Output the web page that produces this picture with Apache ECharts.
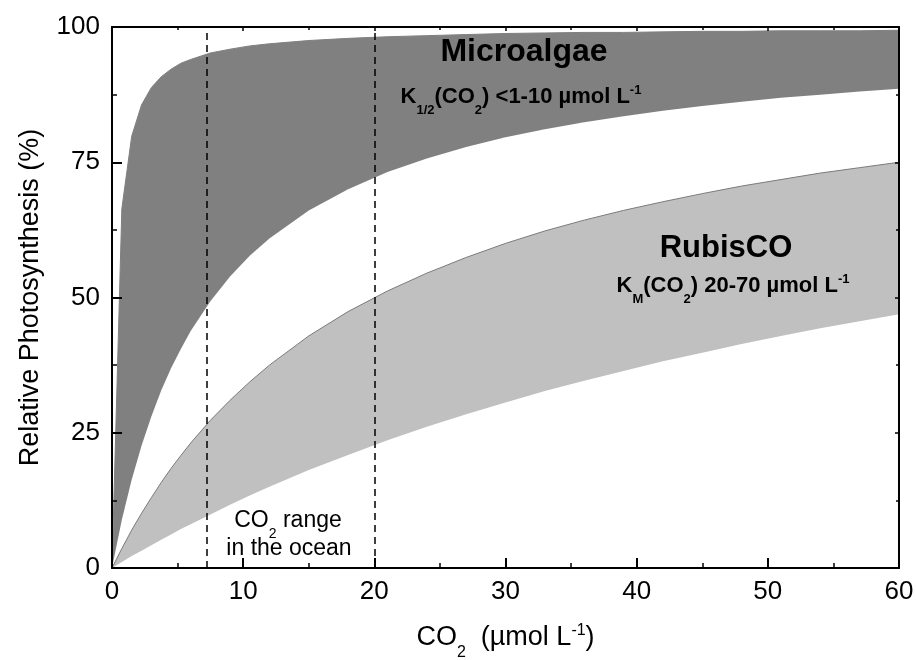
<!DOCTYPE html>
<html><head><meta charset="utf-8">
<script src="https://cdn.jsdelivr.net/npm/echarts@6/dist/echarts.min.js"></script>
<style>html,body{margin:0;padding:0;background:#fff}#c{width:916px;height:660px}</style>
</head><body><div id="c"></div>
<script>
// CO2 concentration (µmol L-1)
const co2 = [0,0.75,1.5,2.25,3,3.75,4.5,5.25,6,7.5,9,10.5,12,15,18,21,24,27,30,33,36,39,42,45,48,51,54,57,60];
// Relative photosynthesis (%)
const microUpper = [0,66.4,79.8,85.6,88.8,90.8,92.2,93.3,94.0,95.2,95.9,96.5,96.9,97.5,97.9,98.2,98.4,98.6,98.8,98.9,99.0,99.0,99.1,99.2,99.2,99.3,99.3,99.3,99.4];
const microLower = [0,8.9,16.3,22.6,28.0,32.8,36.9,40.5,43.8,49.3,53.9,57.7,60.9,66.1,70.0,73.2,75.7,77.8,79.6,81.1,82.4,83.5,84.5,85.4,86.2,86.9,87.5,88.1,88.6];
const rubiscoUpper = [0,3.6,7.0,10.1,13.0,15.8,18.4,20.8,23.1,27.3,31.0,34.4,37.5,42.9,47.4,51.2,54.5,57.4,60.0,62.3,64.3,66.1,67.7,69.2,70.6,71.8,73.0,74.0,75.0];
const rubiscoLower = [0,1.1,2.2,3.2,4.2,5.2,6.2,7.2,8.1,9.9,11.7,13.4,15.0,18.1,20.9,23.6,26.1,28.4,30.6,32.7,34.6,36.4,38.2,39.8,41.4,42.9,44.3,45.6,46.9];
// ocean CO2 range bounds
const oceanRange = [7.2, 20];
const xTicks = [0,10,20,30,40,50,60];
const yTicks = [0,25,50,75,100];

const pair = arr => co2.map((x,i)=>[x,arr[i]]);
const FONT = 'Liberation Sans, Arial, sans-serif';
const chart = echarts.init(document.getElementById('c'), null, {renderer:'canvas'});

function band(data, fill, lineColor, lineWidth, z){
  return {type:'line', data: pair(data), symbol:'none', smooth:false, z:z,
    lineStyle:{color:lineColor, width:lineWidth, opacity: lineWidth?1:0},
    areaStyle:{color:fill, opacity:1}, silent:true, animation:false};
}
const subRich = (fs, bold) => ({
  a:{font:(bold?'bold ':'')+fs+'px '+FONT, fill:'#000', lineHeight:fs+4},
  s:{font:(bold?'bold ':'')+Math.round(fs*0.6)+'px '+FONT, fill:'#000', verticalAlign:'bottom', lineHeight:Math.round(fs*0.6)+1, padding:[0,0,-Math.round(fs*0.3),0]},
  p:{font:(bold?'bold ':'')+Math.round(fs*0.6)+'px '+FONT, fill:'#000', verticalAlign:'top', lineHeight:Math.round(fs*0.6)+1}
});

const option = {
  animation:false,
  grid:{left:112, right:17, top:27, bottom:92, containLabel:false, outerBoundsMode:'none'},
  xAxis:[{
    type:'value', min:xTicks[0], max:xTicks[xTicks.length-1], interval:10, z:10,
    axisLine:{show:true, onZero:false, lineStyle:{color:'#000', width:2}},
    axisTick:{show:true, inside:true, length:10, lineStyle:{color:'#000', width:2}},
    minorTick:{show:true, splitNumber:2, length:5, lineStyle:{color:'#000', width:1.5}},
    splitLine:{show:false},
    axisLabel:{color:'#000', fontFamily:FONT, fontSize:26, margin:11},
    name:'{a|CO}{s|2}{a|  (µmol L}{p|-1}{a|)}', nameLocation:'middle', nameGap:55,
    nameTextStyle:{rich:{
      a:{fontFamily:FONT, fontSize:27, color:'#000', lineHeight:30},
      s:{fontFamily:FONT, fontSize:16, color:'#000', verticalAlign:'bottom', lineHeight:17, padding:[0,0,-8,0]},
      p:{fontFamily:FONT, fontSize:16, color:'#000', verticalAlign:'top', lineHeight:17}
    }}
  },{
    type:'value', position:'top', min:0, max:60, interval:10, z:10,
    axisLine:{show:true, onZero:false, lineStyle:{color:'#000', width:2}},
    axisTick:{show:true, inside:true, length:4, lineStyle:{color:'#000', width:1.5}},
    minorTick:{show:true, splitNumber:2, length:3, lineStyle:{color:'#000', width:1.5}},
    splitLine:{show:false}, axisLabel:{show:false}
  }],
  yAxis:[{
    type:'value', min:yTicks[0], max:yTicks[yTicks.length-1], interval:25, z:10,
    axisLine:{show:true, onZero:false, lineStyle:{color:'#000', width:2}},
    axisTick:{show:true, inside:true, length:10, lineStyle:{color:'#000', width:2}},
    minorTick:{show:true, splitNumber:2, length:5, lineStyle:{color:'#000', width:1.5}},
    splitLine:{show:false},
    axisLabel:{color:'#000', fontFamily:FONT, fontSize:26, margin:12},
    name:'Relative Photosynthesis (%)', nameLocation:'middle', nameRotate:90, nameGap:68,
    nameTextStyle:{fontFamily:FONT, fontSize:27, color:'#000'}
  },{
    type:'value', position:'right', min:0, max:100, interval:25, z:10,
    axisLine:{show:true, onZero:false, lineStyle:{color:'#000', width:2}},
    axisTick:{show:true, inside:true, length:4, lineStyle:{color:'#000', width:1.5}},
    minorTick:{show:true, splitNumber:2, length:3, lineStyle:{color:'#000', width:1.5}},
    splitLine:{show:false}, axisLabel:{show:false}
  }],
  series:[
    band(microUpper, '#808080', '#808080', 1, 2),
    band(microLower, '#ffffff', '#808080', 0, 3),
    band(rubiscoUpper, '#c0c0c0', '#7a7a7a', 1, 4),
    band(rubiscoLower, '#ffffff', '#c0c0c0', 0, 5),
    {type:'line', data:[], z:12, silent:true,
      markLine:{symbol:'none', silent:true, z:12, label:{show:false},
        lineStyle:{color:'#000', type:[7,5], width:1.5},
        data: oceanRange.map(v=>({xAxis:v}))}}
  ],
  graphic:[
    {type:'text', x:524, y:52, z:20, style:{text:'Microalgae', fill:'#000', font:'bold 32px '+FONT, textAlign:'center', textVerticalAlign:'middle'}},
    {type:'text', x:521, y:97, z:20, style:{
      text:'{a|K}{s|1/2}{a|(CO}{s|2}{a|) <1-10 µmol L}{p|-1}', textAlign:'center', textVerticalAlign:'middle',
      rich:subRich(22, true)}},
    {type:'text', x:726, y:248, z:20, style:{text:'RubisCO', fill:'#000', font:'bold 31px '+FONT, textAlign:'center', textVerticalAlign:'middle'}},
    {type:'text', x:733, y:286, z:20, style:{
      text:'{a|K}{s|M}{a|(CO}{s|2}{a|) 20-70 µmol L}{p|-1}', textAlign:'center', textVerticalAlign:'middle',
      rich:subRich(22, true)}},
    {type:'text', x:288, y:521, z:20, style:{
      text:'{a|CO}{s|2}{a| range}', textAlign:'center', textVerticalAlign:'middle',
      rich:subRich(23, false)}},
    {type:'text', x:289, y:549, z:20, style:{text:'in the ocean', fill:'#000', font:'23px '+FONT, textAlign:'center', textVerticalAlign:'middle'}}
  ]
};
chart.setOption(option);
</script></body></html>
